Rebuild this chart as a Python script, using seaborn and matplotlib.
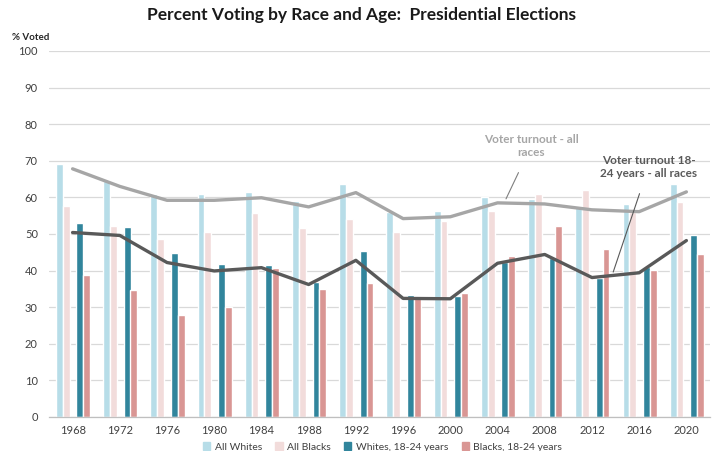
import numpy as np
import pandas as pd
import matplotlib
matplotlib.use("Agg")
import matplotlib.pyplot as plt
from matplotlib.patches import Patch
import seaborn as sns

# data
years = ["1968", "1972", "1976", "1980", "1984", "1988", "1992", "1996",
         "2000", "2004", "2008", "2012", "2016", "2020"]
all_whites = [69.1, 64.5, 60.9, 60.9, 61.4, 59.1, 63.6, 56.0, 56.4, 60.0, 59.6, 57.5, 58.3, 63.7]
all_blacks = [57.6, 52.1, 48.7, 50.5, 55.8, 51.5, 54.0, 50.6, 53.5, 56.3, 60.8, 62.0, 55.9, 58.7]
whites_young = [52.9, 51.9, 44.7, 41.8, 41.6, 37.0, 45.4, 33.3, 33.0, 42.3, 43.5, 38.1, 40.9, 49.7]
blacks_young = [38.9, 34.7, 27.9, 30.1, 40.6, 35.0, 36.6, 32.4, 33.9, 44.1, 52.2, 46.0, 40.2, 44.5]
turnout_all = [67.8, 63.0, 59.2, 59.2, 59.9, 57.4, 61.3, 54.2, 54.7, 58.5, 58.2, 56.6, 56.1, 61.5]
turnout_young = [50.4, 49.6, 42.2, 39.9, 40.8, 36.2, 42.8, 32.4, 32.3, 42.0, 44.4, 38.1, 39.4, 48.2]

sns.set_style("white")
plt.rcParams["font.family"] = ["Lato", "DejaVu Sans"]

fig = plt.figure(figsize=(7.15, 4.51), dpi=100)
ax = fig.add_axes([0.0685, 0.0754, 0.9245, 0.8116])

x = np.arange(len(years))
w = 0.145
# 条形
bar_series = [
    (all_whites, -0.28, "#b7dde8", "All Whites"),
    (all_blacks, -0.135, "#f2dcdb", "All Blacks"),
    (whites_young, 0.155, "#31859c", "Whites, 18-24 years"),
    (blacks_young, 0.298, "#d99694", "Blacks, 18-24 years"),
]
for vals, off, col, lab in bar_series:
    ax.bar(x + off, vals, width=w, color=col, zorder=2)

# 折线
lines = pd.DataFrame({"x": x, "all": turnout_all, "young": turnout_young})
sns.lineplot(data=lines, x="x", y="all", color="#a6a6a6", lw=2.4, ax=ax, zorder=3, legend=False)
sns.lineplot(data=lines, x="x", y="young", color="#595959", lw=2.4, ax=ax, zorder=3, legend=False)
if ax.get_legend() is not None:
    ax.get_legend().remove()

ax.set_xlim(-0.5, len(years) - 0.5)
ax.set_ylim(0, 100)
ax.set_yticks(range(0, 101, 10))
ax.set_yticklabels([str(v) for v in range(0, 101, 10)], fontsize=8, color="#404040")
ax.set_xticks(x)
ax.set_xticklabels(years, fontsize=8, color="#404040")
ax.set_xticks(np.arange(-0.5, len(years), 1.0), minor=True)
ax.tick_params(axis="x", which="major", length=0, pad=6)
ax.tick_params(axis="x", which="minor", length=4, color="#bfbfbf", width=0.8)
ax.tick_params(axis="y", length=0, pad=8)
ax.grid(axis="y", color="#d9d9d9", lw=0.9, zorder=0)
ax.set_axisbelow(True)
ax.set_xlabel("")
ax.set_ylabel("")
for s in ["top", "right", "left"]:
    ax.spines[s].set_visible(False)
ax.spines["bottom"].set_color("#bfbfbf")
ax.spines["bottom"].set_linewidth(0.9)

fig.text(0.017, 0.912, "% Voted", fontsize=7, fontweight="bold", color="#262626")
fig.suptitle("Percent Voting by Race and Age:  Presidential Elections",
             x=0.506, y=0.985, fontsize=12.5, fontweight="bold", color="#1a1a1a")

# 注释
ax.annotate("Voter turnout - all\nraces", xy=(9.18, 59.6), xytext=(9.71, 74.0),
            ha="center", va="center", fontsize=8.5, fontweight="bold", color="#a6a6a6",
            arrowprops=dict(arrowstyle="-", color="#7f7f7f", lw=0.8, shrinkA=9, shrinkB=0))
ax.annotate("Voter turnout 18-\n24 years - all races", xy=(11.45, 39.6), xytext=(12.2, 68.4),
            ha="center", va="center", fontsize=8.5, fontweight="bold", color="#595959",
            arrowprops=dict(arrowstyle="-", color="#595959", lw=0.8, shrinkA=9, shrinkB=0))

handles = [Patch(color=c, label=l) for _, _, c, l in bar_series]
fig.legend(handles=handles, loc="lower center", bbox_to_anchor=(0.535, -0.022), ncol=4,
           frameon=False, fontsize=7.5, handlelength=0.7, handleheight=0.7,
           columnspacing=1.3, handletextpad=0.4, labelcolor="#404040")

fig.savefig("out.png", dpi=100)
